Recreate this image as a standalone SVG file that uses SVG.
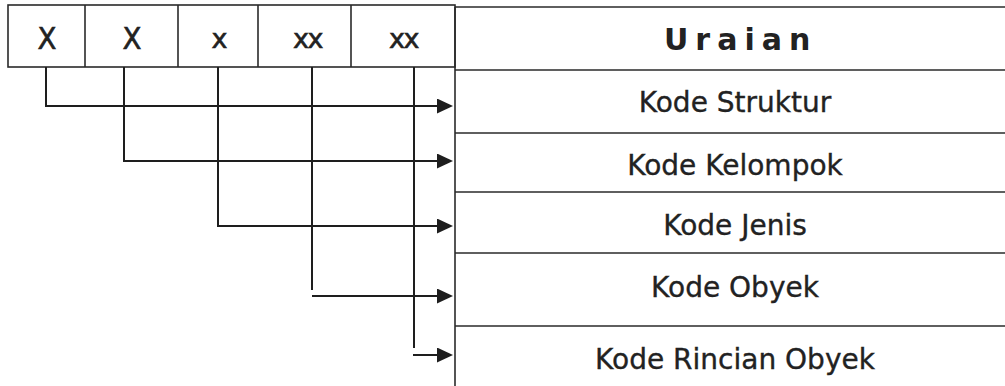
<svg xmlns="http://www.w3.org/2000/svg" width="1005" height="386" viewBox="0 0 1005 386">
  <style>
    .grid { fill: none; stroke: #2a2a2a; stroke-width: 1.6; }
    .wire { fill: none; stroke: #1e1e1e; stroke-width: 2; }
    .code { font-family: "DejaVu Sans", Verdana, sans-serif; fill: #222; stroke: #222; stroke-width: 0.6; text-anchor: middle; }
    .label { font-family: "DejaVu Sans", Verdana, sans-serif; font-size: 28px; fill: #222; stroke: #222; stroke-width: 0.35; text-anchor: middle; }
    .head { font-family: "DejaVu Sans", Verdana, sans-serif; font-size: 30px; font-weight: bold; fill: #222; letter-spacing: 7px; }
  </style>
  <defs>
    <marker id="arrow" viewBox="0 0 16 15" refX="3" refY="7.5" markerWidth="16" markerHeight="15" markerUnits="userSpaceOnUse" orient="auto">
      <path d="M0,0 L16,7.5 L0,15 Z" fill="#1e1e1e"/>
    </marker>
  </defs>
  <rect width="1005" height="386" fill="#ffffff"/>

  <!-- code digit boxes -->
  <g id="code-boxes">
    <rect class="grid" x="8" y="5" width="447" height="62"/>
    <line class="grid" x1="85" y1="5" x2="85" y2="67"/>
    <line class="grid" x1="178" y1="5" x2="178" y2="67"/>
    <line class="grid" x1="258" y1="5" x2="258" y2="67"/>
    <line class="grid" x1="351" y1="5" x2="351" y2="67"/>
    <text class="code" x="47" y="49" font-size="30" textLength="19" lengthAdjust="spacingAndGlyphs">X</text>
    <text class="code" x="132" y="49" font-size="30" textLength="19" lengthAdjust="spacingAndGlyphs">X</text>
    <text class="code" x="219.5" y="48" font-size="27">x</text>
    <text class="code" x="307.5" y="48" font-size="27" letter-spacing="-1.5">xx</text>
    <text class="code" x="403.5" y="48" font-size="27" letter-spacing="-1.5">xx</text>
  </g>

  <!-- description table -->
  <g id="table-frame">
    <line class="grid" x1="455" y1="7" x2="455" y2="386"/>
    <line class="grid" x1="455" y1="7" x2="1005" y2="7"/>
    <line class="grid" x1="455" y1="70" x2="1005" y2="70"/>
    <line class="grid" x1="455" y1="133" x2="1005" y2="133"/>
    <line class="grid" x1="455" y1="192" x2="1005" y2="192"/>
    <line class="grid" x1="455" y1="253" x2="1005" y2="253"/>
    <line class="grid" x1="455" y1="326" x2="1005" y2="326"/>
  </g>
  <g id="header">
    <text class="head" x="664" y="50">Uraian</text>
  </g>
  <g id="row-struktur"><text class="label" x="735" y="112">Kode Struktur</text></g>
  <g id="row-kelompok"><text class="label" x="735" y="175">Kode Kelompok</text></g>
  <g id="row-jenis"><text class="label" x="735" y="235">Kode Jenis</text></g>
  <g id="row-obyek"><text class="label" x="735" y="297">Kode Obyek</text></g>
  <g id="row-rincian"><text class="label" x="735" y="369">Kode Rincian Obyek</text></g>

  <!-- connectors from each digit to its row -->
  <g id="connectors">
    <path class="wire" d="M46,67 V106 H440" marker-end="url(#arrow)"/>
    <path class="wire" d="M124,67 V161 H440" marker-end="url(#arrow)"/>
    <path class="wire" d="M218,67 V226 H440" marker-end="url(#arrow)"/>
    <path class="wire" d="M312,67 V290"/>
    <path class="wire" d="M312,296 H440" marker-end="url(#arrow)"/>
    <path class="wire" d="M414,67 V348"/>
    <path class="wire" d="M413,355 H440" marker-end="url(#arrow)"/>
  </g>
</svg>
